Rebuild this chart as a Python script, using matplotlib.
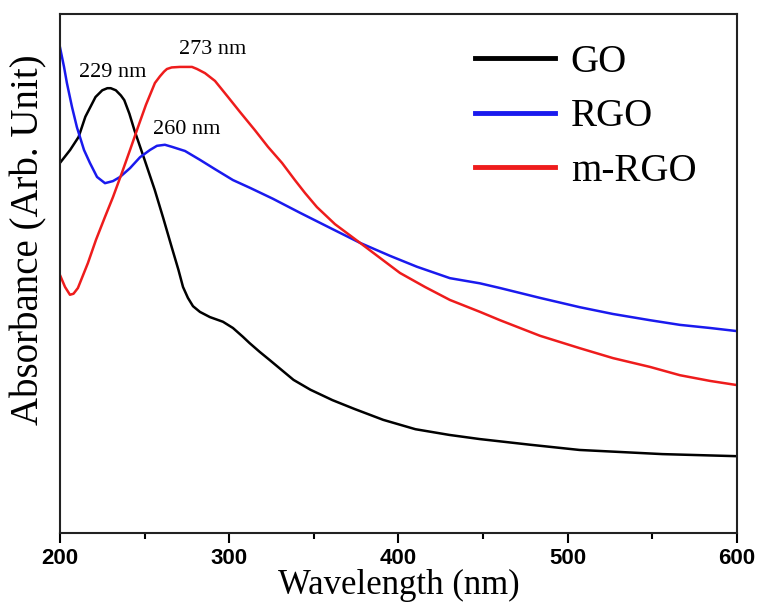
import numpy as np
import matplotlib
matplotlib.use('Agg')
import matplotlib.pyplot as plt
from matplotlib.lines import Line2D

# UV-vis absorbance spectra (arbitrary units)
go_wl = [200, 206, 211, 215, 221, 225, 228, 230, 233, 236, 238, 241, 244, 250, 256, 261,
         266, 270, 272.7, 275.6, 278.6, 282.7, 288.6, 296.3, 302.2, 308.1, 312, 318, 324,
         331, 338, 348, 361, 374, 391, 410, 430, 448, 478, 507, 556, 600]
go_abs = [0.713, 0.738, 0.763, 0.802, 0.840, 0.853, 0.857, 0.857, 0.853, 0.843, 0.834,
          0.808, 0.776, 0.719, 0.661, 0.607, 0.551, 0.507, 0.474, 0.453, 0.437, 0.426,
          0.416, 0.407, 0.395, 0.378, 0.366, 0.349, 0.333, 0.314, 0.295, 0.276, 0.256,
          0.239, 0.218, 0.200, 0.189, 0.181, 0.170, 0.160, 0.152, 0.148]

rgo_wl = [200, 202.4, 204.1, 207.1, 210.0, 214.2, 217.7, 221.9, 226.6, 231.3, 235.5,
          241.4, 247.3, 253.2, 257.3, 262.0, 266.2, 273.9, 282.7, 291.6, 302.2, 312.3,
          325.8, 341.8, 359.5, 377.3, 395.0, 410.9, 430.4, 448.2, 460.0, 483.6, 507.2,
          526.7, 548.6, 566.3, 584.1, 600]
rgo_abs = [0.936, 0.898, 0.867, 0.821, 0.782, 0.738, 0.713, 0.686, 0.674, 0.678, 0.686,
           0.703, 0.724, 0.738, 0.746, 0.748, 0.744, 0.736, 0.719, 0.701, 0.680, 0.665,
           0.644, 0.617, 0.588, 0.559, 0.534, 0.513, 0.491, 0.481, 0.472, 0.453, 0.435,
           0.422, 0.410, 0.401, 0.395, 0.389]

mrgo_wl = [200, 203.0, 205.9, 208.0, 210.6, 216.5, 221.3, 226.6, 231.3, 236.6, 241.4,
           246.1, 250.8, 256.1, 259.1, 261.5, 263.2, 266.0, 270.9, 274.5, 278.0, 281.0,
           285.7, 291.6, 299.3, 306.4, 315.2, 322.9, 331.2, 338.8, 344.8, 351.8, 362.5,
           377.3, 389.1, 400.9, 415.7, 430.4, 448.2, 460.0, 483.6, 507.2, 526.7, 548.6,
           566.3, 584.1, 600]
mrgo_abs = [0.497, 0.474, 0.459, 0.461, 0.472, 0.520, 0.565, 0.609, 0.647, 0.694, 0.738,
            0.782, 0.825, 0.867, 0.880, 0.889, 0.894, 0.897, 0.898, 0.898, 0.898, 0.894,
            0.886, 0.871, 0.840, 0.811, 0.776, 0.744, 0.713, 0.680, 0.655, 0.628, 0.595,
            0.559, 0.530, 0.501, 0.474, 0.449, 0.426, 0.410, 0.380, 0.356, 0.337, 0.320,
            0.304, 0.293, 0.285]

labels = ['GO', 'RGO', 'm-RGO']
colors = ['black', '#1a1aee', '#ee1c1c']

# peak labels: text, x, y
peak_text = ['229 nm', '273 nm', '260 nm']
peak_x = [231, 290, 275]
peak_y = [0.888, 0.931, 0.778]

serif = 'Liberation Serif'
sans = 'Liberation Sans'

fig = plt.figure(figsize=(7.6, 6.05), dpi=100)
ax = fig.add_axes([0.0789, 0.119, 0.8908, 0.8579])

for wl, ab, c, lab in zip([go_wl, rgo_wl, mrgo_wl], [go_abs, rgo_abs, mrgo_abs], colors, labels):
    ax.plot(wl, ab, color=c, lw=1.8, label=lab, solid_joinstyle='round')

for t, x, y in zip(peak_text, peak_x, peak_y):
    ax.text(x, y, t, fontsize=16, family=serif, ha='center', va='center')

ax.set_xlim(200, 600)
ax.set_ylim(0, 1)
ax.set_xticks([200, 300, 400, 500, 600])
ax.set_xticks([250, 350, 450, 550], minor=True)
ax.set_yticks([])
ax.tick_params(axis='x', which='major', direction='out', length=7, width=1.5, pad=4)
ax.tick_params(axis='x', which='minor', direction='out', length=4, width=1.5)
for lbl in ax.get_xticklabels():
    lbl.set_fontfamily(sans)
    lbl.set_fontweight('bold')
    lbl.set_fontsize(16)
for sp in ax.spines.values():
    sp.set_linewidth(1.5)
    sp.set_color('#222222')

ax.set_xlabel('Wavelength (nm)', fontsize=25, family=serif, labelpad=0)
ax.set_ylabel('Absorbance (Arb. Unit)', fontsize=28, family=serif)
ax.yaxis.set_label_coords(-0.018, 0.565)

handles = [Line2D([], [], color=c, lw=3.5) for c in colors]
ax.legend(handles, labels, loc='upper left', bbox_to_anchor=(0.562, 1.01), frameon=False,
          prop={'family': serif, 'size': 28}, handlelength=2.05, handletextpad=0.4,
          labelspacing=0.45)

fig.savefig('out.png', dpi=100)
